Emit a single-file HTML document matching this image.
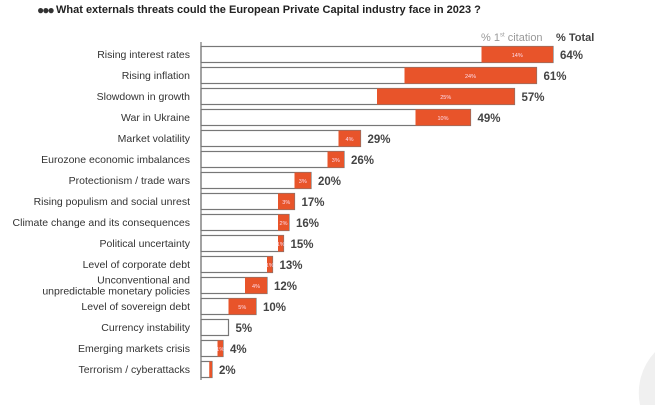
<!DOCTYPE html>
<html><head><meta charset="utf-8"><style>
html,body{margin:0;width:655px;height:405px;background:#fff;overflow:hidden;font-family:"Liberation Sans",sans-serif;position:relative}
.t{position:absolute}
</style></head><body>
<svg width="655" height="405" style="position:absolute;left:0;top:0"><path d="M640,405 A60,60 0 0 1 655,352 L655,405 Z" fill="#f0f0f0"/></svg>
<div class="t" style="left:37px;top:3px;font-size:12px;line-height:14px;color:#333;letter-spacing:-2px">●●●</div>
<div class="t" style="left:56px;top:4px;font-size:11px;line-height:13px;font-weight:bold;color:#222">What externals threats could the European Private Capital industry face in 2023 ?</div>
<div class="t" style="left:481px;top:32px;font-size:11px;line-height:13px;color:#999">% 1<sup style="font-size:6px;line-height:0">st</sup> citation</div>
<div class="t" style="left:556px;top:32px;font-size:11px;line-height:13px;font-weight:bold;color:#444">% Total</div>
<svg id="c" width="655" height="405" style="position:absolute;left:0;top:0"></svg>
<script>
const categories=["Rising interest rates","Rising inflation","Slowdown in growth","War in Ukraine","Market volatility","Eurozone economic imbalances","Protectionism / trade wars","Rising populism and social unrest","Climate change and its consequences","Political uncertainty","Level of corporate debt","Unconventional and|unpredictable monetary policies","Level of sovereign debt","Currency instability","Emerging markets crisis","Terrorism / cyberattacks"];
const totalValues=[64,61,57,49,29,26,20,17,16,15,13,12,10,5,4,2];
const firstValues=[13,24,25,10,4,3,3,3,2,1,1,4,5,0,1,0.5];
const firstLabels=["14%","24%","25%","10%","4%","3%","3%","3%","2%","1%","1%","4%","5%","","1%",""];
const svg=document.getElementById('c');const NS='http://www.w3.org/2000/svg';
const x0=201,k=5.5;const x=v=>x0+v*k;const yc=i=>54+i*21.0;
function el(t,a,name){const e=document.createElementNS(NS,t);for(const n in a)e.setAttribute(n,a[n]);


svg.appendChild(e);return e;}
categories.forEach((c,i)=>{
 const y=yc(i);
 el('rect',{x:x0,y:y-7.5,width:totalValues[i]*k,height:16,fill:'#fff',stroke:'#777','stroke-width':1.2},'bar-total');
 if(firstValues[i]>0) el('rect',{x:x(totalValues[i]-firstValues[i]),y:y-7.5,width:firstValues[i]*k,height:16,fill:'#e8542a'},'bar-first-citation');
 if(firstLabels[i]){const t=el('text',{x:x(totalValues[i]-firstValues[i]/2),y:y+3,'font-size':5.5,fill:'#fde','text-anchor':'middle'},'first-citation-label');t.textContent=firstLabels[i];}
 const v=el('text',{x:x(totalValues[i])+7,y:y+5,'font-size':11.5,fill:'#444','font-weight':'bold'},'total-value-label');v.textContent=totalValues[i]+'%';
 const parts=c.split('|');
 parts.forEach((p,j)=>{const t=el('text',{x:190,y:y+4+(j-(parts.length-1)/2)*11,'font-size':10.5,fill:'#333','text-anchor':'end'},'category-label');t.textContent=p;});
});
el('line',{x1:x0,y1:42,x2:x0,y2:380,stroke:'#777','stroke-width':1.2},'y-axis-line');
</script>
</body></html>
